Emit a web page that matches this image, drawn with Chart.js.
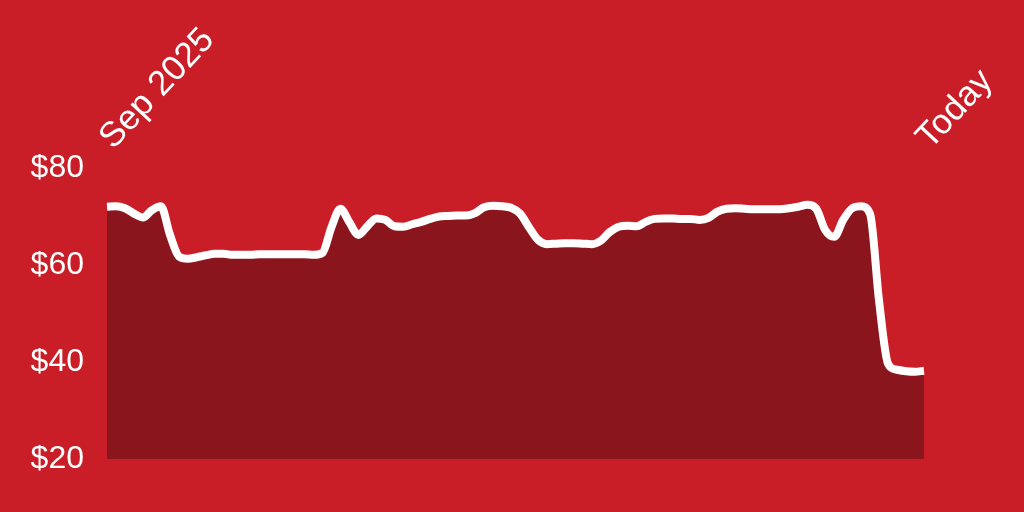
<!DOCTYPE html>
<html lang="en">
<head>
    <meta charset="UTF-8">
    <title>Price since Sep 2025</title>
    <script src="https://cdn.jsdelivr.net/npm/chart.js"></script>
    <style>
        html, body {
            margin: 0;
            padding: 0;
            background: #c91d27;
        }

        .chart-container {
            width: 1024px;
            height: 512px;
        }
    </style>
</head>
<body>
    <div class="chart-container">
        <canvas id="priceChart"></canvas>
    </div>

    <script>
        // Price readings, evenly spaced from Sep 2025 to today
        const prices = [
            72.0, 72.1, 71.7, 70.6, 69.8, 71.3, 72.1, 66.3, 61.8, 61.3,
            61.6, 62.0, 62.3, 62.3, 62.1, 62.1, 62.1, 62.2, 62.2, 62.2,
            62.2, 62.2, 62.2, 62.1, 62.5, 67.8, 71.6, 68.8, 66.2, 68.0,
            69.6, 69.3, 68.0, 67.9, 68.4, 68.9, 69.5, 70.0, 70.1, 70.2,
            70.2, 70.7, 71.9, 72.2, 72.1, 71.8, 70.6, 67.8, 65.2, 64.3,
            64.4, 64.5, 64.5, 64.4, 64.3, 65.0, 66.8, 67.9, 68.1, 68.0,
            68.9, 69.5, 69.6, 69.6, 69.5, 69.5, 69.3, 69.7, 71.0, 71.6,
            71.7, 71.6, 71.5, 71.5, 71.5, 71.5, 71.7, 72.0, 72.4, 71.6,
            67.2, 65.8, 69.3, 71.7, 72.1, 70.5, 52.5, 39.6, 38.4, 38.1,
            38.0, 38.2
        ];

        // Only the first and last points get a label
        const startLabel = 'Sep 2025';
        const endLabel = 'Today';
        const days = prices.map((_, i) =>
            i === 0 ? startLabel : (i === prices.length - 1 ? endLabel : ''));

        const yTicks = [20, 40, 60, 80];

        const family = '"Liberation Sans", Arial, sans-serif';

        const ctx = document.getElementById('priceChart').getContext('2d');
        const priceChart = new Chart(ctx, {
            type: 'line',
            data: {
                labels: days,
                datasets: [{
                    data: prices,
                    borderColor: '#ffffff',
                    borderWidth: 8,
                    backgroundColor: '#8b151c',
                    fill: 'start',
                    pointRadius: 0,
                    cubicInterpolationMode: 'monotone'
                }]
            },
            options: {
                responsive: true,
                maintainAspectRatio: false,
                animation: false,
                layout: {
                    padding: { left: 0, right: 100, top: 0, bottom: 53 }
                },
                plugins: {
                    legend: { display: false },
                    tooltip: { enabled: false }
                },
                scales: {
                    x: {
                        position: 'top',
                        grid: { display: false },
                        border: { display: false },
                        ticks: {
                            color: '#ffffff',
                            font: { family: family, size: 35 },
                            autoSkip: false,
                            minRotation: 47,
                            maxRotation: 47,
                            padding: 2,
                            labelOffset: 30
                        },
                        afterFit: (scale) => { scale.height = 168; }
                    },
                    y: {
                        min: 20,
                        max: 80,
                        grid: { display: false },
                        border: { display: false },
                        afterBuildTicks: (scale) => {
                            scale.ticks = yTicks.map(v => ({ value: v }));
                        },
                        ticks: {
                            color: '#ffffff',
                            font: { family: family, size: 32 },
                            padding: 15,
                            callback: (value) => '$' + value
                        },
                        afterFit: (scale) => { scale.width = 107; }
                    }
                }
            }
        });
    </script>
</body>
</html>
